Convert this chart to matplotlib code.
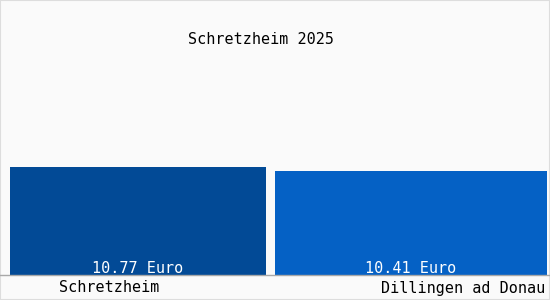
import matplotlib

matplotlib.use("Agg")
import matplotlib.pyplot as plt

# ---------- Data --------------------------------------------------------------
TITLE = "Schretzheim 2025"
places = ["Schretzheim", "Dillingen ad Donau"]
values = [10.77, 10.41]
value_labels = ["10.77 Euro", "10.41 Euro"]

# ---------- Layout (pixel units of a 550x300 canvas) --------------------------
W, H = 550, 300
BASE_Y = 275
PX_PER_UNIT = 10.03
bar_left = [10, 275]
bar_width = [256, 272]
bar_colors = ["#024a96", "#0561c5"]
FONT = "DejaVu Sans Mono"
FS = 10.9

fig = plt.figure(figsize=(W / 100, H / 100), dpi=100, facecolor="#fafafa")
ax = fig.add_axes([0, (H - BASE_Y) / H, 1, BASE_Y / H])
ax.set_facecolor("#fafafa")
ax.set_xlim(0, W)
ax.set_ylim(0, BASE_Y / PX_PER_UNIT)
ax.axis("off")

bars = ax.bar(bar_left, values, width=bar_width, align="edge",
              color=bar_colors, linewidth=0)

for b, lab in zip(bars, value_labels):
    ax.text(b.get_x() + b.get_width() / 2, -0.05, lab, ha="center", va="bottom",
            color="white", fontsize=FS, family=FONT)

# baseline
fig.add_artist(plt.Line2D([0, 1], [(H - BASE_Y) / H] * 2, color="#a8a8a8", lw=1))
# outer frame
fig.add_artist(plt.Rectangle((0, 0), 1, 1, fill=False, ec="#dddddd", lw=1.5,
                             transform=fig.transFigure))

fig.text(109 / W, 1 - 288 / H, places[0], ha="center", va="center",
         fontsize=FS, family=FONT, color="black")
fig.text(545 / W, 1 - 288 / H, places[1], ha="right", va="center",
         fontsize=FS, family=FONT, color="black")
fig.text(261 / W, 1 - 39 / H, TITLE, ha="center", va="center",
         fontsize=FS, family=FONT, color="black")

fig.savefig("out.png", dpi=100, facecolor=fig.get_facecolor())
